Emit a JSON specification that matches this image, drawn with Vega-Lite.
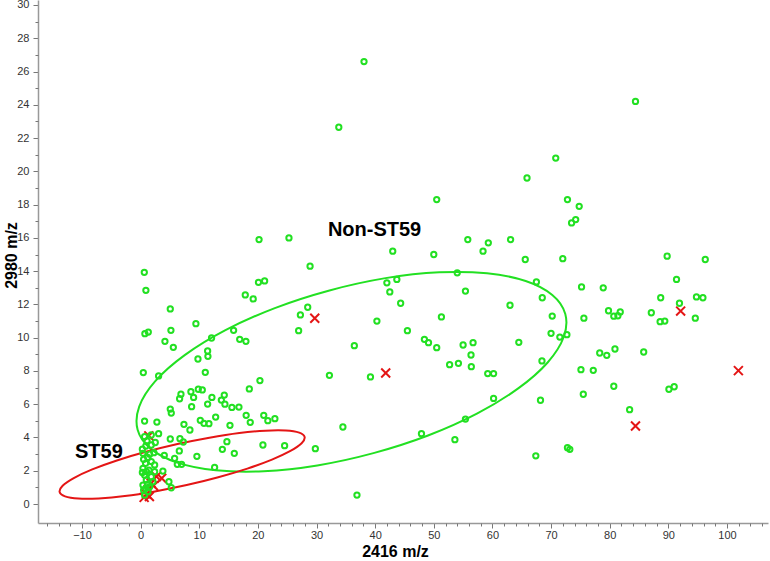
{
  "$schema": "https://vega.github.io/schema/vega-lite/v6.json",
  "autosize": "none",
  "width": 730,
  "height": 523,
  "padding": {"left": 38, "top": 0, "right": 2, "bottom": 38},
  "background": "white",
  "config": {
    "view": {"stroke": null},
    "font": "Liberation Sans",
    "axis": {"grid": false, "labelFont": "Liberation Sans", "titleFont": "Liberation Sans"}
  },
  "datasets": {
    "ellipses": [
      {"ring": "Non-ST59", "idx": 0, "x": 72.43, "y": 11.43},
      {"ring": "Non-ST59", "idx": 1, "x": 72.16, "y": 10.04},
      {"ring": "Non-ST59", "idx": 2, "x": 69.42, "y": 8.51},
      {"ring": "Non-ST59", "idx": 3, "x": 64.40, "y": 6.95},
      {"ring": "Non-ST59", "idx": 4, "x": 57.44, "y": 5.45},
      {"ring": "Non-ST59", "idx": 5, "x": 49.02, "y": 4.12},
      {"ring": "Non-ST59", "idx": 6, "x": 39.71, "y": 3.06},
      {"ring": "Non-ST59", "idx": 7, "x": 30.14, "y": 2.32},
      {"ring": "Non-ST59", "idx": 8, "x": 20.97, "y": 1.97},
      {"ring": "Non-ST59", "idx": 9, "x": 12.82, "y": 2.03},
      {"ring": "Non-ST59", "idx": 10, "x": 6.25, "y": 2.49},
      {"ring": "Non-ST59", "idx": 11, "x": 1.70, "y": 3.33},
      {"ring": "Non-ST59", "idx": 12, "x": -0.51, "y": 4.47},
      {"ring": "Non-ST59", "idx": 13, "x": -0.24, "y": 5.86},
      {"ring": "Non-ST59", "idx": 14, "x": 2.50, "y": 7.39},
      {"ring": "Non-ST59", "idx": 15, "x": 7.52, "y": 8.95},
      {"ring": "Non-ST59", "idx": 16, "x": 14.47, "y": 10.45},
      {"ring": "Non-ST59", "idx": 17, "x": 22.89, "y": 11.78},
      {"ring": "Non-ST59", "idx": 18, "x": 32.21, "y": 12.84},
      {"ring": "Non-ST59", "idx": 19, "x": 41.77, "y": 13.58},
      {"ring": "Non-ST59", "idx": 20, "x": 50.94, "y": 13.93},
      {"ring": "Non-ST59", "idx": 21, "x": 59.09, "y": 13.87},
      {"ring": "Non-ST59", "idx": 22, "x": 65.67, "y": 13.41},
      {"ring": "Non-ST59", "idx": 23, "x": 70.21, "y": 12.57},
      {"ring": "ST59", "idx": 0, "x": 27.97, "y": 4.03},
      {"ring": "ST59", "idx": 1, "x": 27.46, "y": 3.65},
      {"ring": "ST59", "idx": 2, "x": 25.56, "y": 3.19},
      {"ring": "ST59", "idx": 3, "x": 22.40, "y": 2.67},
      {"ring": "ST59", "idx": 4, "x": 18.20, "y": 2.13},
      {"ring": "ST59", "idx": 5, "x": 13.24, "y": 1.61},
      {"ring": "ST59", "idx": 6, "x": 7.86, "y": 1.14},
      {"ring": "ST59", "idx": 7, "x": 2.43, "y": 0.76},
      {"ring": "ST59", "idx": 8, "x": -2.69, "y": 0.48},
      {"ring": "ST59", "idx": 9, "x": -7.14, "y": 0.34},
      {"ring": "ST59", "idx": 10, "x": -10.62, "y": 0.33},
      {"ring": "ST59", "idx": 11, "x": -12.89, "y": 0.46},
      {"ring": "ST59", "idx": 12, "x": -13.81, "y": 0.72},
      {"ring": "ST59", "idx": 13, "x": -13.30, "y": 1.10},
      {"ring": "ST59", "idx": 14, "x": -11.40, "y": 1.56},
      {"ring": "ST59", "idx": 15, "x": -8.25, "y": 2.08},
      {"ring": "ST59", "idx": 16, "x": -4.05, "y": 2.62},
      {"ring": "ST59", "idx": 17, "x": 0.92, "y": 3.14},
      {"ring": "ST59", "idx": 18, "x": 6.29, "y": 3.61},
      {"ring": "ST59", "idx": 19, "x": 11.73, "y": 3.99},
      {"ring": "ST59", "idx": 20, "x": 16.84, "y": 4.27},
      {"ring": "ST59", "idx": 21, "x": 21.29, "y": 4.41},
      {"ring": "ST59", "idx": 22, "x": 24.77, "y": 4.42},
      {"ring": "ST59", "idx": 23, "x": 27.05, "y": 4.29}
    ],
    "nonst59": [
      {"x": 38.1, "y": 26.6}, {"x": 33.8, "y": 22.65}, {"x": 84.4, "y": 24.2}, {"x": 70.8, "y": 20.8},
      {"x": 65.9, "y": 19.6}, {"x": 50.5, "y": 18.3}, {"x": 72.8, "y": 18.3}, {"x": 74.8, "y": 17.9},
      {"x": 74.2, "y": 17.1}, {"x": 73.5, "y": 16.9}, {"x": 55.8, "y": 15.9}, {"x": 59.3, "y": 15.7},
      {"x": 63.1, "y": 15.9}, {"x": 43.0, "y": 15.2}, {"x": 50.0, "y": 15.0}, {"x": 58.4, "y": 15.2},
      {"x": 28.9, "y": 14.3}, {"x": 65.6, "y": 14.7}, {"x": 72.0, "y": 14.75}, {"x": 89.8, "y": 14.9},
      {"x": 96.3, "y": 14.7}, {"x": 54.0, "y": 13.9}, {"x": 42.0, "y": 13.3}, {"x": 43.7, "y": 13.5},
      {"x": 42.5, "y": 12.75}, {"x": 55.4, "y": 12.8}, {"x": 67.5, "y": 13.35}, {"x": 75.2, "y": 13.05},
      {"x": 78.9, "y": 13.0}, {"x": 91.4, "y": 13.5}, {"x": 68.5, "y": 12.4}, {"x": 88.7, "y": 12.4},
      {"x": 94.8, "y": 12.45}, {"x": 95.9, "y": 12.4}, {"x": 44.35, "y": 12.07}, {"x": 63.0, "y": 11.95},
      {"x": 40.3, "y": 11.0}, {"x": 51.3, "y": 11.25}, {"x": 70.2, "y": 11.3}, {"x": 45.5, "y": 10.42},
      {"x": 70.0, "y": 10.26}, {"x": 71.5, "y": 10.04}, {"x": 72.7, "y": 10.18}, {"x": 36.45, "y": 9.52},
      {"x": 48.4, "y": 9.9}, {"x": 49.1, "y": 9.7}, {"x": 50.5, "y": 9.4}, {"x": 55.0, "y": 9.56},
      {"x": 56.7, "y": 9.7}, {"x": 56.35, "y": 8.96}, {"x": 64.5, "y": 9.72}, {"x": 32.2, "y": 7.74},
      {"x": 39.2, "y": 7.64}, {"x": 52.7, "y": 8.38}, {"x": 54.2, "y": 8.46}, {"x": 56.4, "y": 8.26},
      {"x": 59.2, "y": 7.84}, {"x": 60.2, "y": 7.84}, {"x": 68.45, "y": 8.6}, {"x": 60.2, "y": 6.35},
      {"x": 68.2, "y": 6.24}, {"x": 34.5, "y": 4.63}, {"x": 55.4, "y": 5.11}, {"x": 47.9, "y": 4.23},
      {"x": 53.6, "y": 3.87}, {"x": 67.4, "y": 2.9}, {"x": 72.8, "y": 3.39}, {"x": 73.2, "y": 3.29},
      {"x": 91.9, "y": 12.07}, {"x": 75.6, "y": 11.17}, {"x": 79.8, "y": 11.62}, {"x": 80.7, "y": 11.29},
      {"x": 81.4, "y": 11.32}, {"x": 81.8, "y": 11.55}, {"x": 87.1, "y": 11.5}, {"x": 88.6, "y": 10.96},
      {"x": 89.4, "y": 11.0}, {"x": 94.6, "y": 11.17}, {"x": 78.3, "y": 9.08}, {"x": 79.5, "y": 8.94},
      {"x": 80.9, "y": 9.32}, {"x": 85.8, "y": 9.14}, {"x": 75.1, "y": 8.08}, {"x": 77.2, "y": 8.04},
      {"x": 75.5, "y": 6.6}, {"x": 80.7, "y": 7.08}, {"x": 90.1, "y": 6.9}, {"x": 91.0, "y": 7.05},
      {"x": 83.4, "y": 5.67}, {"x": 36.9, "y": 0.54}, {"x": 20.2, "y": 15.9}, {"x": 25.3, "y": 16.0},
      {"x": 0.63, "y": 13.93}, {"x": 0.9, "y": 12.85}, {"x": 20.1, "y": 13.33}, {"x": 21.15, "y": 13.41},
      {"x": 17.85, "y": 12.57}, {"x": 19.2, "y": 12.33}, {"x": 5.06, "y": 11.73}, {"x": 28.5, "y": 11.83},
      {"x": 27.25, "y": 11.37}, {"x": 26.95, "y": 10.42}, {"x": 9.43, "y": 10.84}, {"x": 0.73, "y": 10.24},
      {"x": 1.31, "y": 10.34}, {"x": 5.17, "y": 10.44}, {"x": 4.15, "y": 9.78}, {"x": 5.58, "y": 9.42},
      {"x": 15.86, "y": 10.44}, {"x": 12.1, "y": 9.98}, {"x": 16.9, "y": 9.9}, {"x": 17.96, "y": 9.78},
      {"x": 11.43, "y": 9.2}, {"x": 11.48, "y": 8.88}, {"x": 9.78, "y": 8.72}, {"x": 0.46, "y": 7.9},
      {"x": 3.07, "y": 7.7}, {"x": 11.03, "y": 7.92}, {"x": 20.35, "y": 7.42}, {"x": 18.54, "y": 6.92},
      {"x": 6.88, "y": 6.6}, {"x": 6.65, "y": 6.33}, {"x": 8.58, "y": 6.75}, {"x": 9.84, "y": 6.9},
      {"x": 10.52, "y": 6.86}, {"x": 9.04, "y": 6.41}, {"x": 8.7, "y": 5.85}, {"x": 12.16, "y": 6.41},
      {"x": 11.43, "y": 6.01}, {"x": 14.27, "y": 6.55}, {"x": 13.77, "y": 6.25}, {"x": 14.38, "y": 6.0},
      {"x": 15.57, "y": 5.81}, {"x": 16.77, "y": 5.83}, {"x": 5.06, "y": 5.71}, {"x": 5.23, "y": 5.47},
      {"x": 12.8, "y": 5.23}, {"x": 10.18, "y": 5.03}, {"x": 10.8, "y": 4.85}, {"x": 11.65, "y": 4.83},
      {"x": 18.0, "y": 5.33}, {"x": 18.7, "y": 4.91}, {"x": 21.0, "y": 5.33}, {"x": 21.7, "y": 5.01},
      {"x": 22.9, "y": 5.13}, {"x": 7.39, "y": 4.79}, {"x": 8.41, "y": 4.45}, {"x": 15.24, "y": 4.73},
      {"x": 0.68, "y": 4.99}, {"x": 2.78, "y": 4.93}, {"x": 3.07, "y": 4.23}, {"x": 5.06, "y": 3.91},
      {"x": 6.71, "y": 3.93}, {"x": 7.28, "y": 3.73}, {"x": 14.72, "y": 3.75}, {"x": 20.86, "y": 3.55},
      {"x": 24.56, "y": 3.51}, {"x": 13.94, "y": 3.29}, {"x": 15.98, "y": 3.05}, {"x": 29.8, "y": 3.33},
      {"x": 6.6, "y": 3.19}, {"x": 5.8, "y": 2.75}, {"x": 4.04, "y": 2.93}, {"x": 9.6, "y": 2.87},
      {"x": 6.26, "y": 2.39}, {"x": 6.99, "y": 2.39}, {"x": 12.62, "y": 2.2}, {"x": 3.8, "y": 1.98},
      {"x": 4.83, "y": 1.34}, {"x": 5.23, "y": 0.98},
      {"x": 0.68, "y": 4.05}, {"x": 1.82, "y": 4.15}, {"x": 0.9, "y": 3.49}, {"x": 1.82, "y": 3.55},
      {"x": 0.4, "y": 3.05}, {"x": 1.54, "y": 3.0}, {"x": 2.27, "y": 3.09}, {"x": 0.51, "y": 2.69},
      {"x": 1.82, "y": 2.55}, {"x": 0.85, "y": 2.45}, {"x": 2.39, "y": 2.35}, {"x": 0.4, "y": 2.15},
      {"x": 1.42, "y": 2.04}, {"x": 2.39, "y": 1.94}, {"x": 0.68, "y": 1.74}, {"x": 1.82, "y": 1.64},
      {"x": 0.97, "y": 1.44}, {"x": 2.1, "y": 1.34}, {"x": 0.4, "y": 1.14}, {"x": 1.54, "y": 1.04},
      {"x": 0.51, "y": 0.84}, {"x": 1.25, "y": 0.74}, {"x": 0.68, "y": 0.54}, {"x": 1.1, "y": 3.8},
      {"x": 2.5, "y": 3.7}, {"x": 0.3, "y": 3.3}, {"x": 1.2, "y": 2.8}, {"x": 0.3, "y": 1.9},
      {"x": 1.0, "y": 1.95}, {"x": 1.2, "y": 1.2}, {"x": 0.9, "y": 0.95}
    ],
    "st59": [
      {"x": 29.7, "y": 11.17}, {"x": 41.8, "y": 7.88}, {"x": 92.1, "y": 11.6}, {"x": 101.95, "y": 8.02},
      {"x": 84.4, "y": 4.69}, {"x": 3.6, "y": 1.55}, {"x": 2.7, "y": 1.65}, {"x": 1.8, "y": 1.25},
      {"x": 1.3, "y": 0.9}, {"x": 1.0, "y": 0.6}, {"x": 0.6, "y": 0.4}, {"x": 1.5, "y": 0.45},
      {"x": 2.2, "y": 1.1}, {"x": 1.4, "y": 4.1}
    ],
    "labels": [
      {"x": -7.11, "y": 3.14, "text": "ST59"},
      {"x": 39.9, "y": 16.49, "text": "Non-ST59"}
    ]
  },
  "resolve": {"axis": {"x": "independent", "y": "independent"}},
  "layer": [
    {
      "data": {"name": "ellipses"},
      "mark": {"type": "line", "interpolate": "cardinal-closed", "strokeWidth": 2, "clip": true},
      "encoding": {
        "x": {"field": "x", "type": "quantitative", "scale": {"domain": [-17.5, 107], "nice": false, "zero": false},
          "axis": {"orient": "bottom", "values": [-10, 0, 10, 20, 30, 40, 50, 60, 70, 80, 90, 100], "tickSize": 5, "tickColor": "#777", "domainColor": "#999", "domainWidth": 1.5,
            "labelFontSize": 11, "labelColor": "#333", "labelPadding": 1, "title": "2416 m/z", "titleFontSize": 16, "titleFontWeight": "bold", "titleColor": "#000",
            "titleX": 357, "titleY": 28, "titleBaseline": "middle", "titleAlign": "center"}},
        "y": {"field": "y", "type": "quantitative", "scale": {"domain": [-1.14, 30.3], "nice": false, "zero": false},
          "axis": {"orient": "left", "values": [0, 2, 4, 6, 8, 10, 12, 14, 16, 18, 20, 22, 24, 26, 28, 30], "tickSize": 5, "tickColor": "#777", "domainColor": "#999", "domainWidth": 1.5,
            "labelFontSize": 11, "labelColor": "#333", "labelPadding": 4, "title": "2980 m/z", "titleFontSize": 16, "titleFontWeight": "bold", "titleColor": "#000",
            "titleX": -27, "titleY": 255, "titleAngle": -90, "titleBaseline": "middle", "titleAlign": "center"}},
        "detail": {"field": "ring"},
        "order": {"field": "idx", "type": "quantitative"},
        "color": {"field": "ring", "type": "nominal", "scale": {"domain": ["Non-ST59", "ST59"], "range": ["#22e022", "#e41515"]}, "legend": null}
      }
    },
    {
      "data": {"name": "st59"},
      "mark": {"type": "point", "shape": "M-1,-1L1,1M-1,1L1,-1", "filled": false, "size": 80, "strokeWidth": 2, "color": "#e41515", "opacity": 1},
      "encoding": {
        "x": {"field": "x", "type": "quantitative",
          "axis": {"orient": "bottom", "values": [-16, -14, -12, -8, -6, -4, -2, 2, 4, 6, 8, 12, 14, 16, 18, 22, 24, 26, 28, 32, 34, 36, 38, 42, 44, 46, 48, 52, 54, 56, 58, 62, 64, 66, 68, 72, 74, 76, 78, 82, 84, 86, 88, 92, 94, 96, 98, 102, 104, 106],
            "labels": false, "domain": false, "tickSize": 3, "tickColor": "#777", "title": null}},
        "y": {"field": "y", "type": "quantitative",
          "axis": {"orient": "left", "values": [1, 3, 5, 7, 9, 11, 13, 15, 17, 19, 21, 23, 25, 27, 29],
            "labels": false, "domain": false, "tickSize": 3, "tickColor": "#777", "title": null}}
      }
    },
    {
      "data": {"name": "nonst59"},
      "mark": {"type": "point", "shape": "circle", "filled": false, "size": 28, "strokeWidth": 2, "color": "#22e022", "opacity": 1},
      "encoding": {
        "x": {"field": "x", "type": "quantitative", "axis": null},
        "y": {"field": "y", "type": "quantitative", "axis": null}
      }
    },
    {
      "data": {"name": "labels"},
      "mark": {"type": "text", "fontSize": 20, "fontWeight": "bold", "font": "Liberation Sans", "color": "#000", "align": "center", "baseline": "middle"},
      "encoding": {
        "x": {"field": "x", "type": "quantitative", "axis": null},
        "y": {"field": "y", "type": "quantitative", "axis": null},
        "text": {"field": "text"}
      }
    }
  ]
}
